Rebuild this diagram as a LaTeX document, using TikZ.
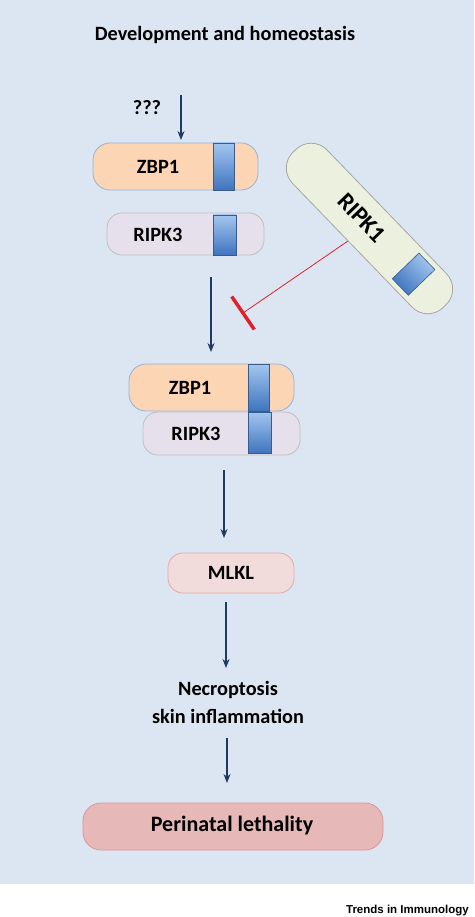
\documentclass[tikz,border=0pt]{standalone}
\usepackage{fontspec}
\setmainfont{Carlito}
\newfontfamily\trendsfont{Liberation Sans}
\usetikzlibrary{arrows.meta,calc}
\definecolor{bgblue}{HTML}{DCE6F2}
\definecolor{navy}{HTML}{1F3B63}
\definecolor{zbpfill}{HTML}{FCD5B5}
\definecolor{zbpdraw}{HTML}{95B3D7}
\definecolor{ripkfill}{HTML}{E6E0EC}
\definecolor{ripkdraw}{HTML}{BFBFBF}
\definecolor{ripkonefill}{HTML}{EBF1DE}
\definecolor{ripkonedraw}{HTML}{A6A6A6}
\definecolor{mlklfill}{HTML}{F2DCDB}
\definecolor{mlkldraw}{HTML}{E6A8A6}
\definecolor{perifill}{HTML}{E6B9B8}
\definecolor{peridraw}{HTML}{D99694}
\definecolor{boxtop}{HTML}{A3C6F0}
\definecolor{boxbot}{HTML}{3F74BE}
\definecolor{boxdraw}{HTML}{385D8A}
\definecolor{inhib}{HTML}{E0202A}
\tikzset{
  protein/.style={draw, line width=0.8pt, rounded corners=17pt},
  bluebox/.style={draw=boxdraw, line width=0.6pt, top color=boxtop, bottom color=boxbot},
  lbl/.style={font=\bfseries\fontsize{20.3}{23}\selectfont, text=black, inner sep=0pt},
  flow/.style={draw=navy, line width=1.4pt, -{Stealth[length=9pt,width=7pt]}},
}
\begin{document}
\begin{tikzpicture}[x=1pt,y=-1pt]
\useasboundingbox (0,0) rectangle (474,917);
\fill[bgblue] (0,0) rectangle (474,884);

% title
\node[lbl] (title) at (225,35) {Development and homeostasis};
\node[lbl] (qqq) at (147,108) {???};
\coordinate (a1s) at (181,95);

% top ZBP1
\draw[protein, fill=zbpfill, draw=zbpdraw] (93,143) rectangle (258,190);
\draw[bluebox] (213,143) rectangle (234,190);
\node[lbl] (zbpA) at (158,167) {ZBP1};

% top RIPK3
\draw[protein, fill=ripkfill, draw=ripkdraw, rounded corners=15pt] (107,213) rectangle (264,255);
\draw[bluebox] (213,215) rectangle (236,255);
\node[lbl] (ripkA) at (158,235) {RIPK3};

% RIPK1 rotated
\begin{scope}[shift={(369.5,228.5)}, rotate=-46]
  \draw[protein, fill=ripkonefill, draw=ripkonedraw, rounded corners=22pt] (-108,-24) rectangle (108,24);
  \draw[bluebox, shading angle=-46] (52,-18.5) rectangle (75,18.5);
  \node[lbl, font=\bfseries\fontsize{24}{26}\selectfont, rotate=-46] (ripkone) at (-13,-2) {RIPK1};
  \coordinate (inhs) at (-6,24.5);
\end{scope}

% arrows top
\draw[flow] (a1s) -- (181,140);
\coordinate (a2s) at (211,277);
\coordinate (a2e) at (211,352);
\draw[flow] (a2s) -- (a2e);

% inhibition
\coordinate (inhe) at (243,313);
\draw[inhib, line width=0.8pt] (inhs) -- (inhe);
\draw[inhib, line width=3.5pt] ($(inhe)!20pt!90:(inhs)$) -- ($(inhe)!20pt!-90:(inhs)$);

% complex
\draw[protein, fill=zbpfill, draw=zbpdraw] (129,364) rectangle (294,411);
\draw[protein, fill=ripkfill, draw=ripkdraw, rounded corners=15pt] (143,412) rectangle (300,455);
\draw[bluebox] (248,364) rectangle (269,411);
\draw[bluebox] (248,412) rectangle (271,453);
\node[lbl] (zbpB) at (190,388) {ZBP1};
\node[lbl] (ripkB) at (196,434) {RIPK3};
\coordinate (a3s) at (224,470);
\coordinate (a3e) at (224,538);
\draw[flow] (a3s) -- (a3e);

% MLKL
\draw[protein, fill=mlklfill, draw=mlkldraw, rounded corners=15pt] (168,553) rectangle (294,593);
\node[lbl] (mlkl) at (231,573) {MLKL};
\coordinate (a4s) at (226,602);
\coordinate (a4e) at (226,668);
\draw[flow] (a4s) -- (a4e);

\node[lbl] (necro) at (228,690) {Necroptosis};
\node[lbl] (skin) at (228,716) {skin inflammation};
\coordinate (a5s) at (227,738);
\coordinate (a5e) at (227,783);
\draw[flow] (a5s) -- (a5e);

% Perinatal
\draw[protein, fill=perifill, draw=peridraw, rounded corners=18pt] (83,803) rectangle (383,850);
\node[lbl, font=\bfseries\fontsize{22}{25}\selectfont] (peri) at (232,826) {Perinatal lethality};

\node[anchor=base east, inner sep=0pt, font=\trendsfont\bfseries\fontsize{11.5}{13}\selectfont] (trends) at (469,913) {Trends in Immunology};
\end{tikzpicture}
\end{document}
